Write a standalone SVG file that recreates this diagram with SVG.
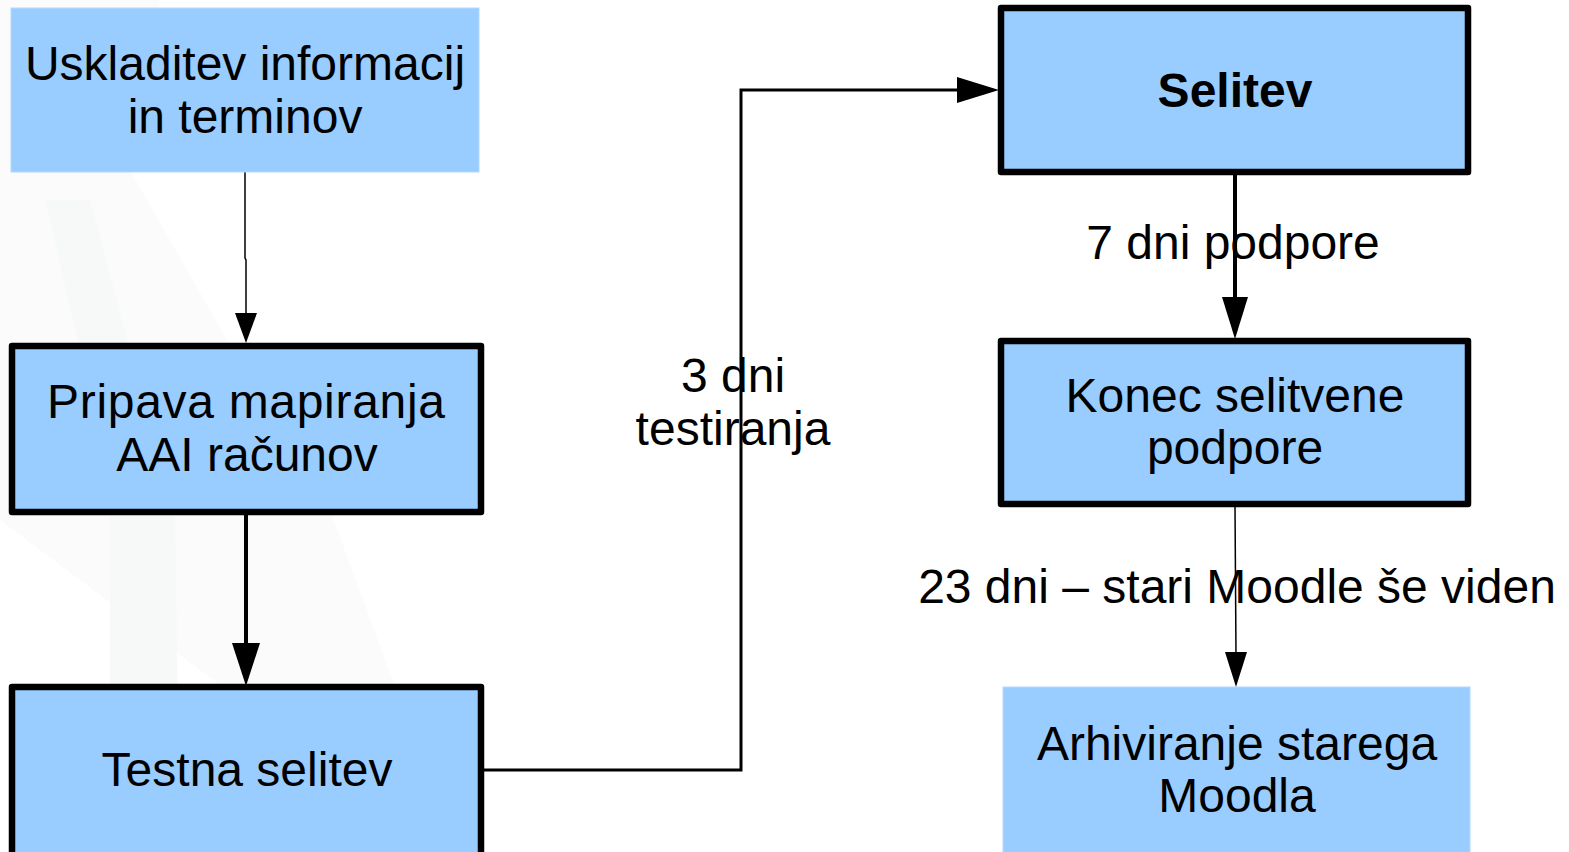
<svg xmlns="http://www.w3.org/2000/svg" width="1569" height="852" viewBox="0 0 1569 852">
<defs>
<style>
.box{fill:#99ccff}
.thick{stroke:#000;stroke-width:6.5;stroke-linejoin:round}
.soft{stroke:#b3d9ff;stroke-width:1}
.t{font-family:"Liberation Sans",Arial,sans-serif;font-size:48px;fill:#000;text-anchor:middle}
.b{font-weight:bold}
.ln{fill:none;stroke:#000}
.ah{fill:#000}
</style>
</defs>
<rect width="1569" height="852" fill="#fff"/>
<g id="watermark">
<path d="M0,0 L160,0 C150,60 140,120 130,170 L230,345 L330,510 L400,700 L420,852 L300,852 L240,700 L0,520 Z" fill="#fbfbfb"/>
<path d="M45,200 L90,200 L130,350 L175,510 L180,852 L110,852 L110,510 L80,350 Z" fill="#f7f8f8"/>
</g>
<g id="connectors">
<path class="ln" stroke-width="1.5" d="M245,172 L245,258 L246,260 L246,316"/>
<polygon class="ah" points="235,313 257,313 246,343"/>
<path class="ln" stroke-width="4" d="M246,515 L246,648"/>
<polygon class="ah" points="232,643 260,643 246,686"/>
<path class="ln" stroke-width="3" d="M484,770 L741,770 L741,90 L962,90"/>
<polygon class="ah" points="957,77 999,90 957,103"/>
<path class="ln" stroke-width="4" d="M1235,174 L1235,302"/>
<polygon class="ah" points="1222,297 1248,297 1235,339"/>
<path class="ln" stroke-width="1.5" d="M1235,506 L1236,655"/>
<polygon class="ah" points="1225,652 1247,652 1236,687"/>
<text class="t" x="733" y="392">3 dni</text>
<text class="t" x="733" y="445">testiranja</text>
<text class="t" x="1233" y="259">7 dni podpore</text>
<text class="t" x="1237" y="603">23 dni – stari Moodle še viden</text>
</g>
<g id="n1">
<rect class="box soft" x="11" y="8" width="468" height="164"/>
<text class="t" x="245" y="80">Uskladitev informacij</text>
<text class="t" x="245" y="133">in terminov</text>
</g>
<g id="n2">
<rect class="box thick" x="12" y="346" width="469" height="166"/>
<text class="t" x="246" y="418" textLength="398" lengthAdjust="spacing">Pripava mapiranja</text>
<text class="t" x="247" y="471">AAI računov</text>
</g>
<g id="n3">
<rect class="box thick" x="12" y="687" width="469" height="180"/>
<text class="t" x="247" y="786">Testna selitev</text>
</g>
<g id="n4">
<rect class="box thick" x="1001" y="8" width="467" height="164"/>
<text class="t b" x="1235" y="107">Selitev</text>
</g>
<g id="n5">
<rect class="box thick" x="1001" y="341" width="467" height="163"/>
<text class="t" x="1235" y="412">Konec selitvene</text>
<text class="t" x="1235" y="464">podpore</text>
</g>
<g id="n6">
<rect class="box soft" x="1003" y="687" width="467" height="180"/>
<text class="t" x="1237" y="760">Arhiviranje starega</text>
<text class="t" x="1237" y="812">Moodla</text>
</g>
</svg>
